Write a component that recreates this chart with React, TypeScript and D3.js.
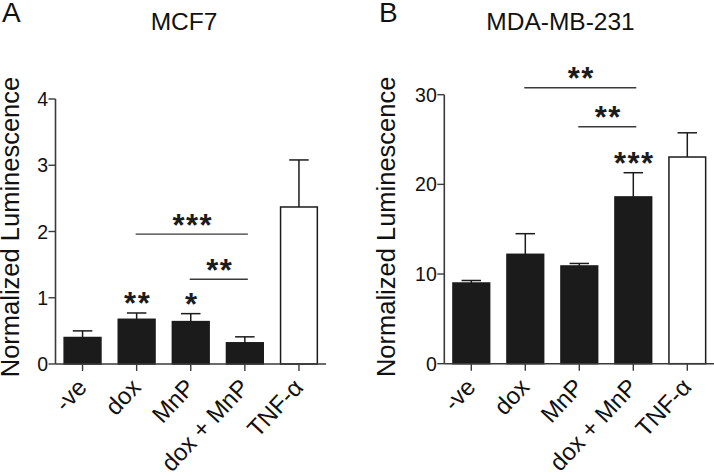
import React from "react";
import * as d3 from "d3";

const categories = ["-ve", "dox", "MnP", "dox + MnP", "TNF-α"];
const mcf7Means = [0.40, 0.675, 0.64, 0.32, 2.37];
const mcf7Errors = [0.10, 0.095, 0.12, 0.09, 0.71];
const mdaMeans = [9.0, 12.2, 10.9, 18.6, 23.05];
const mdaErrors = [0.28, 2.3, 0.28, 2.7, 2.7];
const filled = [true, true, true, true, false];
const mcf7Ticks = [0, 1, 2, 3, 4];
const mdaTicks = [0, 10, 20, 30];
// bar-top stars
const mcf7BarStars = ["", "**", "*", "", ""];
const mdaBarStars = ["", "", "", "***", ""];
// bracket comparisons: [from index, to index, level (data units), label]
const mcf7Brackets: [number, number, number, string][] = [
  [1, 3, 1.96, "***"],
  [2, 3, 1.28, "**"],
];
const mdaBrackets: [number, number, number, string][] = [
  [1, 3, 30.77, "**"],
  [2, 3, 26.42, "**"],
];

const FONT = "'Liberation Sans', Arial, Helvetica, sans-serif";
const DARK = "#1b1b1b";
const AXIS = "#3a3a3a";

type PanelProps = {
  letter: string;
  letterX: number;
  title: string;
  titleX: number;
  x0: number;
  x1: number;
  y0: number;
  yTop: number;
  maxV: number;
  ticks: number[];
  means: number[];
  errors: number[];
  barStars: string[];
  brackets: [number, number, number, string][];
  labelX: number;
};

const STAR_FS = 31;

function Stars({ cx, top, text }: { cx: number; top: number; text: string }) {
  return (
    <text
      x={cx + 1}
      y={top + STAR_FS * 0.716}
      textAnchor="middle"
      fontFamily={FONT}
      fontWeight="bold"
      fontSize={STAR_FS}
      fill={DARK}
      letterSpacing={1.5}
    >
      {text}
    </text>
  );
}

function Panel(p: PanelProps) {
  const x = d3.scalePoint<string>().domain(categories).range([p.x0, p.x1]).padding(0.5);
  const y = d3.scaleLinear().domain([0, p.maxV]).range([p.y0, p.yTop]);
  const step = x.step();
  const bw = step * 0.68;
  const cap = 19.5;
  return (
    <g>
      <text x={p.letterX} y={22} fontFamily={FONT} fontSize={28} fill="#111">
        {p.letter}
      </text>
      <text x={p.titleX} y={30} textAnchor="middle" fontFamily={FONT} fontSize={24.5} fill="#111">
        {p.title}
      </text>
      <text
        transform={`translate(${p.labelX},${(p.y0 + 76 + 14) / 2 + 0}) rotate(-90)`}
        textAnchor="middle"
        fontFamily={FONT}
        fontSize={25.5}
        fill="#111"
      >
        Normalized Luminescence
      </text>
      {/* error bars */}
      {categories.map((c, i) => {
        const cx = x(c)!;
        const top = y(p.means[i] + p.errors[i]);
        return (
          <g key={"e" + c} stroke={DARK} strokeWidth={1.5}>
            <line x1={cx} x2={cx} y1={y(p.means[i])} y2={top} />
            <line x1={cx - cap / 2} x2={cx + cap / 2} y1={top} y2={top} />
          </g>
        );
      })}
      {/* bars */}
      {categories.map((c, i) => (
        <rect
          key={"b" + c}
          x={x(c)! - bw / 2}
          y={y(p.means[i])}
          width={bw}
          height={p.y0 - y(p.means[i])}
          fill={filled[i] ? DARK : "#fff"}
          stroke={DARK}
          strokeWidth={1.5}
        />
      ))}
      {/* axes */}
      <line x1={p.x0} x2={p.x0} y1={p.y0} y2={y(p.maxV)} stroke={AXIS} strokeWidth={1.6} />
      <line x1={p.x0} x2={p.x1} y1={p.y0} y2={p.y0} stroke={AXIS} strokeWidth={1.6} />
      {p.ticks.map((t) => (
        <g key={"t" + t}>
          <line x1={p.x0 - 7} x2={p.x0} y1={y(t)} y2={y(t)} stroke={AXIS} strokeWidth={1.4} />
          <text
            x={p.x0 - 7.5}
            y={y(t)}
            dy="0.36em"
            textAnchor="end"
            fontFamily={FONT}
            fontSize={19.5}
            fill="#111"
          >
            {t}
          </text>
        </g>
      ))}
      {categories.map((c) => (
        <g key={"x" + c}>
          <line x1={x(c)!} x2={x(c)!} y1={p.y0} y2={p.y0 + 7} stroke={AXIS} strokeWidth={1.4} />
          <text
            transform={`translate(${x(c)! + 5.5},${p.y0 + 24.5}) rotate(-47)`}
            textAnchor="end"
            fontFamily={FONT}
            fontSize={24}
            fill="#111"
          >
            {c}
          </text>
        </g>
      ))}
      {/* stars over bars */}
      {categories.map((c, i) =>
        p.barStars[i] ? (
          <Stars key={"s" + c} cx={x(c)!} top={y(p.means[i] + p.errors[i]) - 21} text={p.barStars[i]} />
        ) : null
      )}
      {/* brackets */}
      {p.brackets.map(([a, b, lvl, lab], k) => {
        const xa = x(categories[a])! - 1;
        const xb = x(categories[b])! + 3;
        const ly = y(lvl);
        return (
          <g key={"br" + k}>
            <line x1={xa} x2={xb} y1={ly} y2={ly} stroke={AXIS} strokeWidth={1.4} />
            <Stars cx={(xa + xb) / 2} top={ly - 20.5} text={lab} />
          </g>
        );
      })}
    </g>
  );
}

export default function App() {
  return (
    <svg
      width={714}
      height={476}
      style={{ position: "absolute", left: 0, top: 0, display: "block", background: "#fff" }}
    >
      <rect width={714} height={476} fill="#fff" />
      <Panel
        letter="A"
        letterX={2}
        title="MCF7"
        titleX={184}
        x0={55.5}
        x1={326}
        y0={364}
        yTop={99}
        maxV={4}
        ticks={mcf7Ticks}
        means={mcf7Means}
        errors={mcf7Errors}
        barStars={mcf7BarStars}
        brackets={mcf7Brackets}
        labelX={18.5}
      />
      <Panel
        letter="B"
        letterX={379}
        title="MDA-MB-231"
        titleX={560.5}
        x0={444.3}
        x1={714.3}
        y0={363.7}
        yTop={94.7}
        maxV={30}
        ticks={mdaTicks}
        means={mdaMeans}
        errors={mdaErrors}
        barStars={mdaBarStars}
        brackets={mdaBrackets}
        labelX={394.5}
      />
    </svg>
  );
}
